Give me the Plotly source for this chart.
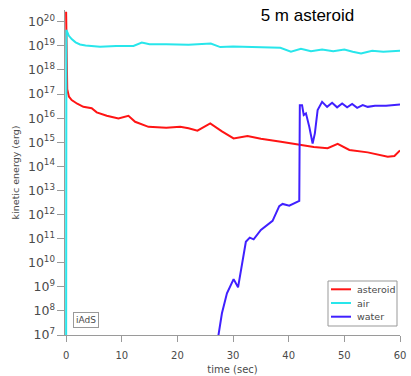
import plotly.graph_objects as go

# Kinetic energy (erg, log10) versus time (sec) for a 5 m asteroid impact
t_asteroid = [0.0, 0.08, 0.2, 0.5, 1.0, 2.0, 3.1, 4.6, 5.5, 7.3, 9.4, 11.2, 12.4, 14.8,
              16.4, 18.0, 20.5, 22.0, 23.6, 25.9, 28.0, 30.1, 32.6, 35.0, 38.6, 41.9,
              44.5, 47.0, 48.8, 50.9, 54.2, 57.8, 59.0, 60.0]
log_asteroid = [20.42, 18.6, 17.2, 16.9, 16.75, 16.6, 16.47, 16.41, 16.24, 16.1, 15.99,
                16.1, 15.85, 15.64, 15.62, 15.6, 15.64, 15.58, 15.48, 15.78, 15.45, 15.16,
                15.26, 15.15, 15.02, 14.88, 14.8, 14.75, 14.93, 14.68, 14.58, 14.4, 14.43,
                14.66]

t_air = [0.0, 0.05, 0.5, 1.0, 1.7, 2.5, 3.5, 6.1, 9.0, 12.1, 13.6, 15.0, 18.0, 22.0,
         26.0, 27.7, 30.0, 34.0, 38.5, 40.4, 42.2, 44.0, 46.0, 48.0, 50.0, 51.5, 53.0,
         55.0, 57.0, 60.0]
log_air = [5.0, 19.66, 19.42, 19.28, 19.15, 19.06, 19.02, 18.96, 19.0, 19.0, 19.14,
           19.07, 19.07, 19.05, 19.1, 18.95, 18.98, 18.94, 18.92, 18.76, 18.88, 18.78,
           18.85, 18.78, 18.85, 18.76, 18.69, 18.8, 18.76, 18.8]

t_water = [26.9, 27.4, 28.0, 28.9, 30.1, 30.9, 31.5, 32.3, 33.0, 33.7, 35.0, 36.5,
           37.1, 38.3, 38.9, 40.1, 41.9, 42.0, 42.4, 42.7, 43.1, 43.7, 44.3, 44.7,
           45.2, 46.0, 46.9, 47.8, 48.7, 49.6, 50.5, 51.4, 52.3, 53.3, 54.2, 55.5,
           57.5, 60.0]
log_water = [6.3, 7.0, 7.9, 8.73, 9.32, 8.98, 9.83, 10.87, 11.04, 10.97, 11.36, 11.63,
             11.74, 12.35, 12.44, 12.37, 12.57, 16.54, 16.54, 16.13, 16.2, 15.64, 14.95,
             15.37, 16.34, 16.68, 16.47, 16.64, 16.45, 16.61, 16.45, 16.59, 16.43, 16.54,
             16.47, 16.52, 16.52, 16.57]

series = [
    ("asteroid", t_asteroid, log_asteroid, "rgb(255,20,20)"),
    ("air", t_air, log_air, "rgb(40,230,235)"),
    ("water", t_water, log_water, "rgb(64,32,255)"),
]

W, H = 411, 376
M = dict(l=65, r=11, t=10, b=41)
PW, PH = W - M["l"] - M["r"], H - M["t"] - M["b"]


def px_x(px):
    return (px - M["l"]) / PW


def px_y(py):
    return (H - M["b"] - py) / PH


fig = go.Figure()
for name, t, lg, color in series:
    fig.add_trace(go.Scatter(
        x=t, y=[10 ** v for v in lg], name=name, mode="lines",
        line=dict(color=color, width=2), showlegend=False,
    ))

axis_color = "#9a9a9a"
text_color = "#4a4a4a"
tick_font = dict(family="DejaVu Sans", size=10, color=text_color)

# compact boxed key in the lower right corner
shapes = [dict(type="rect", xref="paper", yref="paper",
               x0=px_x(328), x1=px_x(397), y0=px_y(326), y1=px_y(281),
               line=dict(color="#999999", width=1), fillcolor="white", layer="above")]
annotations = []
for i, (name, _, _, color) in enumerate(series):
    yy = px_y(289.3 + 13.7 * i)
    shapes.append(dict(type="line", xref="paper", yref="paper",
                       x0=px_x(331), x1=px_x(351), y0=yy, y1=yy,
                       line=dict(color=color, width=2), layer="above"))
    annotations.append(dict(text=name, xref="paper", yref="paper", x=px_x(355), y=yy,
                            xanchor="left", yanchor="middle", showarrow=False,
                            font=dict(family="DejaVu Sans", size=9.5, color=text_color)))

annotations.append(dict(
    text="iAdS", xref="paper", yref="paper", x=0.063, y=0.046,
    xanchor="center", yanchor="middle", showarrow=False,
    font=dict(family="DejaVu Sans", size=9, color=text_color),
    bordercolor="#999999", borderwidth=1, borderpad=2, bgcolor="white",
))

fig.update_layout(
    width=W, height=H,
    margin=M,
    paper_bgcolor="white", plot_bgcolor="white",
    font=dict(family="DejaVu Sans", color=text_color),
    title=dict(text="5 m asteroid", x=0.748, xanchor="center", y=1 - 15 / H,
               yanchor="middle", font=dict(family="Liberation Sans", size=17, color="black")),
    xaxis=dict(
        range=[-0.2, 60], tickvals=[0, 10, 20, 30, 40, 50, 60], automargin=False,
        showgrid=False, zeroline=False, showline=True, linecolor=axis_color, linewidth=1,
        ticks="outside", ticklen=6, tickcolor=axis_color, tickfont=tick_font,
        ticklabelstandoff=5,
        title=dict(text="time (sec)", font=dict(size=10, color=text_color), standoff=5),
    ),
    yaxis=dict(
        type="log", range=[7, 20.49], dtick=1, exponentformat="power", showexponent="all",
        automargin=False,
        showgrid=False, zeroline=False, showline=True, linecolor=axis_color, linewidth=1,
        ticks="outside", ticklen=7, tickcolor=axis_color, tickfont=tick_font,
        title=dict(text="kinetic energy (erg)", font=dict(size=9.5, color=text_color), standoff=6),
    ),
    showlegend=False,
    shapes=shapes,
    annotations=annotations,
)

fig.write_html("out.html")
